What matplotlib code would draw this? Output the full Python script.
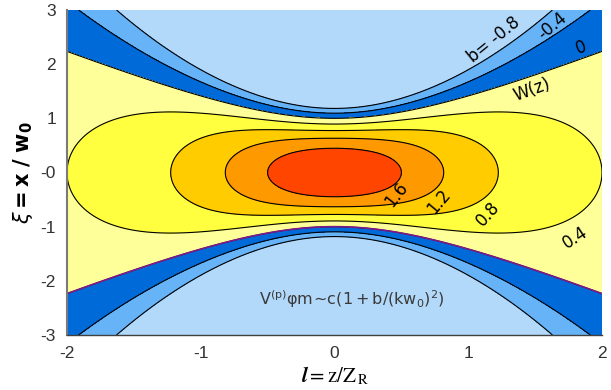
import numpy as np
import matplotlib
matplotlib.use("Agg")
import matplotlib.pyplot as plt

plt.rcParams["contour.negative_linestyle"] = "solid"

# ---- data ----
contour_levels = [-0.8, -0.4, 0.0, 0.4, 0.8, 1.2, 1.6]
fill_levels = [-50.0, -0.8, -0.4, 0.0, 0.4, 0.8, 1.2, 1.6, 2.5]
fill_colors = ["#b2d8fa", "#66b3f7", "#006ad8", "#ffff99",
               "#ffff40", "#ffcc00", "#ff9900", "#ff4500"]
x_ticks = [-2, -1, 0, 1, 2]
x_tick_labels = ["-2", "-1", "0", "1", "2"]
y_ticks = [3, 2, 1, 0, -1, -2, -3]
y_tick_labels = ["3", "2", "1", "-0", "-1", "-2", "-3"]
contour_texts = ["b= -0.8", "-0.4", "0", "W(z)", "1.6", "1.2", "0.8", "0.4"]


def field(l, xi):
    """b(l, xi) for a Gaussian beam: 2/w^2 (1 - xi^2/w^2), w^2 = 1 + l^2."""
    w2 = 1.0 + l ** 2
    return 2.0 / w2 * (1.0 - xi ** 2 / w2)


# ---- layout ----
fig = plt.figure(figsize=(6.11, 3.90), dpi=100)
ax = fig.add_axes([67 / 611, 55 / 390, 535 / 611, 325 / 390])

l = np.linspace(-2, 2, 601)
xi = np.linspace(-3, 3, 601)
L, XI = np.meshgrid(l, xi)
B = field(L, XI)

ax.contourf(L, XI, B, levels=fill_levels, colors=fill_colors)
ax.contour(L, XI, B, levels=contour_levels, colors="black", linewidths=0.8,
           linestyles="solid")
# lower zero contour appears purple in the reference
low = xi < 0
ax.contour(L[low], XI[low], B[low], levels=[0.0], colors="#7a1a8a",
           linewidths=1.2, linestyles="solid")

label_layout = [  # (l, xi, rotation)
    (1.19, 2.45, 39), (1.63, 2.70, 40), (1.84, 2.30, 20), (1.48, 1.53, 20),
    (0.46, -0.41, 52), (0.78, -0.54, 50), (1.15, -0.76, 48), (1.80, -1.20, 33),
]
for txt, (px, py, rot) in zip(contour_texts, label_layout):
    ax.text(px, py, txt, rotation=rot, ha="center", va="center",
            fontsize=12, color="black", family="DejaVu Sans")

ax.text(0.13, -2.34, r"$\mathrm{V^{(p)}\varphi m\!\sim\! c(1+b/(kw_0)^2)}$",
        ha="center", va="center", fontsize=11.5, color="#3a3a3a",
        math_fontfamily="dejavusans")

ax.set_xlim(-2, 2)
ax.set_ylim(-3, 3)
ax.set_xticks(x_ticks)
ax.set_xticklabels(x_tick_labels)
ax.set_yticks(y_ticks)
ax.set_yticklabels(y_tick_labels)
ax.tick_params(length=0, pad=8, labelsize=12.5, labelcolor="#333333")
for t in ax.get_xticklabels() + ax.get_yticklabels():
    t.set_family("Liberation Sans")

for s in ["top", "right"]:
    ax.spines[s].set_visible(False)
ax.spines["left"].set_color("#7a7a7a")
ax.spines["left"].set_linewidth(1.5)
ax.spines["bottom"].set_color("#404040")
ax.spines["bottom"].set_linewidth(1.0)

ax.set_xlabel(r"$\mathbfit{l}\mathrm{=z/Z}_{\,\mathrm{R}}$", fontsize=15,
              math_fontfamily="stix", labelpad=2)
ax.set_ylabel(r"$\xi\mathbf{=x\ /\ w_0}$", fontsize=15,
              math_fontfamily="dejavusans", labelpad=4)

fig.savefig("out.png", dpi=100)
